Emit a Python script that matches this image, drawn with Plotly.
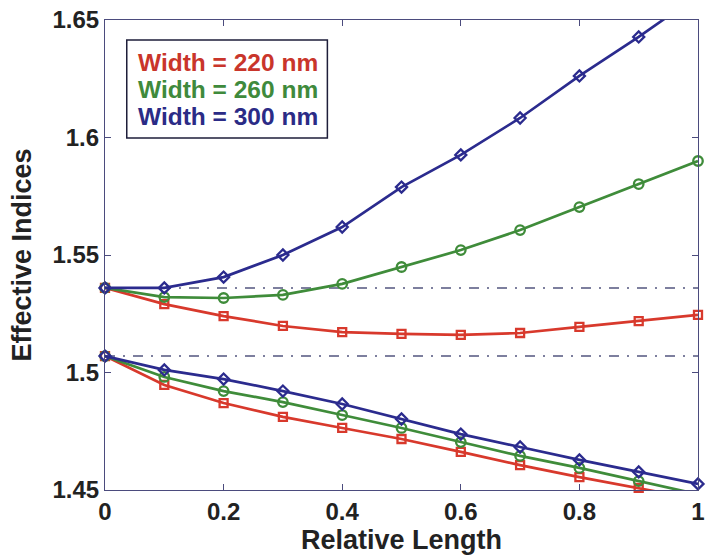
import plotly.graph_objects as go

# ---- data ----
rel_length = [0.0, 0.1, 0.2, 0.3, 0.4, 0.5, 0.6, 0.7, 0.8, 0.9, 1.0]

upper_220 = [1.536, 1.5291, 1.5240, 1.5198, 1.5172, 1.5164, 1.5160, 1.5168, 1.5194, 1.5219, 1.5245]
upper_260 = [1.536, 1.5321, 1.5317, 1.5330, 1.5377, 1.5449, 1.5521, 1.5606, 1.5704, 1.5802, 1.5900]
upper_300 = [1.536, 1.5360, 1.5406, 1.5500, 1.5619, 1.5789, 1.5926, 1.6083, 1.6262, 1.6428, 1.6605]

lower_220 = [1.507, 1.4947, 1.4870, 1.4811, 1.4764, 1.4717, 1.4662, 1.4606, 1.4555, 1.4509, 1.4460]
lower_260 = [1.507, 1.4981, 1.4921, 1.4874, 1.4819, 1.4764, 1.4704, 1.4645, 1.4594, 1.4538, 1.4482]
lower_300 = [1.507, 1.5011, 1.4972, 1.4921, 1.4866, 1.4802, 1.4738, 1.4683, 1.4628, 1.4577, 1.4526]

ref_levels = [1.536, 1.507]

series_names = ["Width = 220 nm", "Width = 260 nm", "Width = 300 nm"]
x_ticks = [0, 0.2, 0.4, 0.6, 0.8, 1]
y_ticks = [1.45, 1.5, 1.55, 1.6, 1.65]

X_RANGE = [0, 1]
Y_RANGE = [1.45, 1.65]

# ---- styles ----
colors = ["#d8392c", "#3f8c3a", "#2b2b8e"]
text_colors = ["#c9352b", "#3f8a3c", "#2b2b86"]
symbols = ["square-open", "circle-open", "diamond-open"]
msizes = [8, 9.5, 8.5]
axis_color = "#4b4b7d"
FONT = "Liberation Sans"

fig = go.Figure()

# dash-dot reference lines
for lvl in ref_levels:
    fig.add_trace(go.Scatter(
        x=[X_RANGE[0], X_RANGE[1]], y=[lvl, lvl], mode="lines",
        line=dict(color="#7d7f9e", width=2, dash="10px,8px,2px,8px"),
        showlegend=False, hoverinfo="skip"))

groups = [
    (upper_220, upper_260, upper_300),
    (lower_220, lower_260, lower_300),
]

for grp in groups:
    for i, ys in enumerate(grp):
        # line (clipped to plot area)
        fig.add_trace(go.Scatter(
            x=rel_length, y=ys, mode="lines",
            line=dict(color=colors[i], width=2.7),
            showlegend=False, hoverinfo="skip"))
        # markers (only points inside the axis range, drawn unclipped like MATLAB)
        mx = [x for x, y in zip(rel_length, ys) if Y_RANGE[0] - 1e-9 <= y <= Y_RANGE[1] + 1e-9]
        my = [y for y in ys if Y_RANGE[0] - 1e-9 <= y <= Y_RANGE[1] + 1e-9]
        fig.add_trace(go.Scatter(
            x=mx, y=my, mode="markers", cliponaxis=False,
            marker=dict(symbol=symbols[i], size=msizes[i], color=colors[i],
                        line=dict(color=colors[i], width=2.3)),
            name=series_names[i], showlegend=False))

# legend box (MATLAB-style, text only)
fig.add_shape(type="rect", xref="x", yref="y",
              x0=0.0367, x1=0.375, y0=1.5998, y1=1.6415,
              line=dict(color="#1e1e3a", width=1.5), fillcolor="white", layer="above")
legend_y = [1.6321, 1.6206, 1.6091]
for i, name in enumerate(series_names):
    fig.add_annotation(x=0.052, y=legend_y[i], xref="x", yref="y",
                       text=name, showarrow=False, xanchor="left", yanchor="middle",
                       font=dict(family=FONT, size=24.5, color=text_colors[i], weight="bold"))

fig.update_layout(
    width=707, height=555,
    margin=dict(l=105, r=2, t=20, b=65),
    paper_bgcolor="white", plot_bgcolor="white",
    showlegend=False,
)

fig.update_xaxes(
    range=X_RANGE, tickvals=x_ticks, ticktext=[f"{v:g}" for v in x_ticks],
    showline=True, linecolor=axis_color, linewidth=1.2, mirror="ticks",
    ticks="inside", ticklen=6, tickcolor=axis_color,
    showgrid=False, zeroline=False, ticklabeloverflow="allow",
    tickfont=dict(family=FONT, size=24, color="#222222", weight="bold"),
    title=dict(text="Relative Length", standoff=1,
               font=dict(family=FONT, size=27, color="#222222", weight="bold")),
)
fig.update_yaxes(
    range=Y_RANGE, tickvals=y_ticks, ticktext=[f"{v:g}" for v in y_ticks],
    showline=True, linecolor=axis_color, linewidth=1.2, mirror="ticks",
    ticks="inside", ticklen=6, tickcolor=axis_color,
    showgrid=False, zeroline=False, ticklabeloverflow="allow",
    tickfont=dict(family=FONT, size=24, color="#222222", weight="bold"),
    title=dict(text="Effective Indices", standoff=12,
               font=dict(family=FONT, size=27, color="#222222", weight="bold")),
)

fig.write_html("out.html")
